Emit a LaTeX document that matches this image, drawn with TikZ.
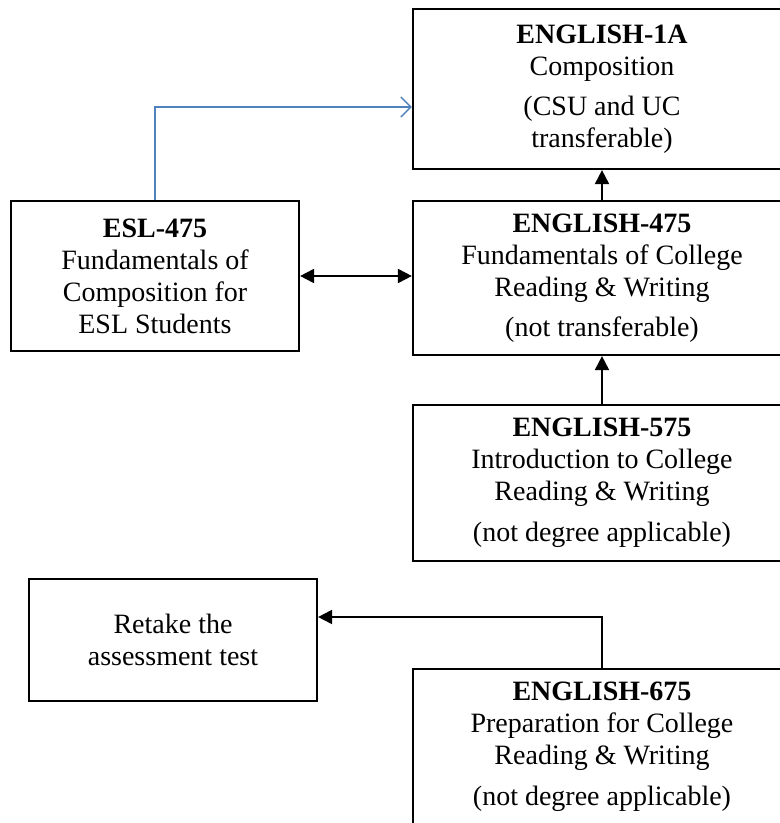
\documentclass[tikz,border=0pt]{standalone}
\usepackage{fontspec}
\setmainfont{Liberation Serif}
\usetikzlibrary{arrows.meta}
\definecolor{linkblue}{RGB}{79,129,189}

\begin{document}
\begin{tikzpicture}[x=1pt,y=-1pt,
  course/.style={draw,line width=2.2pt,align=center,inner sep=0pt,
    minimum width=378pt,minimum height=156pt,
    font=\fontsize{28}{32}\selectfont},
  side course/.style={course,minimum width=288pt},
  link/.style={line width=2pt,-{Triangle[length=14pt,width=14pt]}},
  both link/.style={line width=2pt,
    {Triangle[length=14pt,width=14pt]}-{Triangle[length=14pt,width=14pt]}},
  esl link/.style={line width=2pt,draw=linkblue,
    -{Straight Barb[length=10pt,width=20pt,line width=1.4pt]}}]

  \useasboundingbox (0,0) rectangle (780,823);
  \clip (0,0) rectangle (780,823);

  \node [course,minimum height=160pt] (e1a) at (602,89)
    {\textbf{ENGLISH-1A}\\Composition\\[8pt](CSU and UC\\transferable)};
  \node [course,minimum height=154pt] (e475) at (602,278)
    {\textbf{ENGLISH-475}\\Fundamentals of College\\Reading \& Writing\\[8pt](not transferable)};
  \node [course] (e575) at (602,483)
    {\textbf{ENGLISH-575}\\Introduction to College\\Reading \& Writing\\[9pt](not degree applicable)};
  \node [course] (e675) at (602,747)
    {\textbf{ENGLISH-675}\\Preparation for College\\Reading \& Writing\\[9pt](not degree applicable)};
  \node [side course,minimum height=150pt] (esl) at (155,276)
    {\textbf{ESL-475}\\Fundamentals of\\Composition for\\ESL Students};
  \node [side course,minimum height=122pt] (retake) at (173,640)
    {Retake the\\assessment test};

  \draw [link] (e475.north) -- (e1a.south);
  \draw [link] (e575.north) -- (e475.south);
  \draw [both link] (esl.east) -- (esl.east -| e475.west);
  \draw [link] (e675.north) |- ([yshift=23pt]retake.east);
  \draw [esl link] (esl.north) |- ([yshift=-18pt]e1a.west);
\end{tikzpicture}
\end{document}
